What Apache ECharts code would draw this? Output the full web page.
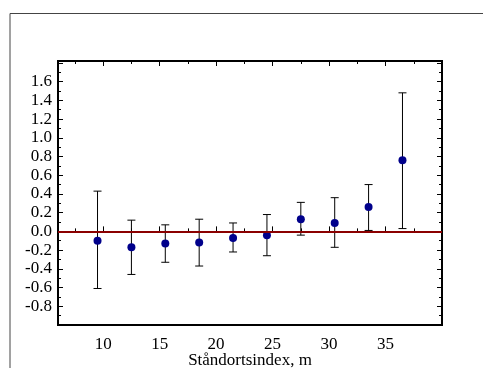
<!DOCTYPE html>
<html><head><meta charset="utf-8">
<script src="https://cdn.jsdelivr.net/npm/echarts@6/dist/echarts.min.js"></script>
<style>html,body{margin:0;padding:0;background:#fff}#c{width:483px;height:368px}</style>
</head><body><div id="c"></div>
<script>
const xValues = [9.5, 12.5, 15.5, 18.5, 21.5, 24.5, 27.5, 30.5, 33.5, 36.5];
const means   = [-0.10, -0.17, -0.13, -0.12, -0.07, -0.04, 0.13, 0.09, 0.26, 0.76];
const lows    = [-0.61, -0.46, -0.33, -0.37, -0.22, -0.26, -0.04, -0.17, 0.01, 0.03];
const highs   = [0.43, 0.12, 0.07, 0.13, 0.09, 0.18, 0.31, 0.36, 0.50, 1.48];
const xTickLabels = [10, 15, 20, 25, 30, 35];
const xMinorTicks = [7.5, 12.5, 17.5, 22.5, 27.5, 32.5, 37.5];
const yTickLabels = [-0.8, -0.6, -0.4, -0.2, 0.0, 0.2, 0.4, 0.6, 0.8, 1.0, 1.2, 1.4, 1.6];
const xTitle = 'Ståndortsindex, m';

const font = 'Liberation Serif';
const chart = echarts.init(document.getElementById('c'));
function xAx(pos, ticks, len, labels) {
  return {
    type: 'value', position: pos, min: 6, max: 40,
    axisLine: {show: false}, splitLine: {show: false},
    axisTick: {show: true, inside: true, length: len, customValues: ticks, lineStyle: {color: '#000', width: 1}},
    axisLabel: labels ? {show: true, customValues: xTickLabels, margin: 11, color: '#000', fontFamily: font, fontSize: 17} : {show: false},
    name: labels ? xTitle : '', nameLocation: 'middle', nameGap: 27, nameMoveOverlap: false,
    nameTextStyle: {color: '#000', fontFamily: font, fontSize: 17}
  };
}
function yAx(pos, labels) {
  return {
    type: 'value', position: pos, min: -1.0, max: 1.82, interval: 0.2,
    axisLine: {show: false}, splitLine: {show: false},
    axisTick: {show: true, inside: true, length: 5, lineStyle: {color: '#000', width: 1}},
    minorTick: {show: true, splitNumber: 2, length: 3, lineStyle: {color: '#000', width: 1}},
    axisLabel: labels ? {show: true, customValues: yTickLabels, margin: 6, color: '#000', fontFamily: font, fontSize: 17,
      padding: [4, 0, 0, 0], formatter: v => v.toFixed(1)} : {show: false}
  };
}
chart.setOption({
  animation: false,
  grid: {left: 58, top: 61, right: 41, bottom: 43, containLabel: false, outerBoundsMode: 'none',
    show: true, borderColor: '#000', borderWidth: 2, backgroundColor: 'transparent'},
  graphic: [{type: 'rect', shape: {x: 10, y: 13.5, width: 600, height: 500}, style: {fill: 'none', stroke: '#444', lineWidth: 1}, silent: true, z: -10}],
  xAxis: [xAx('bottom', xTickLabels, 5, true), xAx('bottom', xMinorTicks, 3, false), xAx('top', xTickLabels, 5, false), xAx('top', xMinorTicks, 3, false)],
  yAxis: [yAx('left', true), yAx('right', false)],
  series: [
    {
      type: 'custom', xAxisIndex: 0, yAxisIndex: 0,
      data: xValues.map((x, i) => [x, lows[i], highs[i]]),
      renderItem: function (params, api) {
        const lo = api.coord([api.value(0), api.value(1)]);
        const hi = api.coord([api.value(0), api.value(2)]);
        const hw = 4;
        return {type: 'group', children: [
          {type: 'line', shape: {x1: lo[0], y1: lo[1], x2: hi[0], y2: hi[1]}, style: {stroke: '#000', lineWidth: 1}},
          {type: 'line', shape: {x1: lo[0] - hw, y1: lo[1], x2: lo[0] + hw, y2: lo[1]}, style: {stroke: '#000', lineWidth: 1}},
          {type: 'line', shape: {x1: hi[0] - hw, y1: hi[1], x2: hi[0] + hw, y2: hi[1]}, style: {stroke: '#000', lineWidth: 1}}
        ]};
      },
      z: 2
    },
    {
      type: 'scatter', xAxisIndex: 0, yAxisIndex: 0,
      data: xValues.map((x, i) => [x, means[i]]),
      symbolSize: 8, itemStyle: {color: '#00008b', opacity: 1},
      markLine: {silent: true, symbol: 'none', label: {show: false},
        lineStyle: {color: '#8b0000', width: 2, type: 'solid'}, data: [{yAxis: 0}], animation: false},
      z: 4
    }
  ]
});
</script></body></html>
